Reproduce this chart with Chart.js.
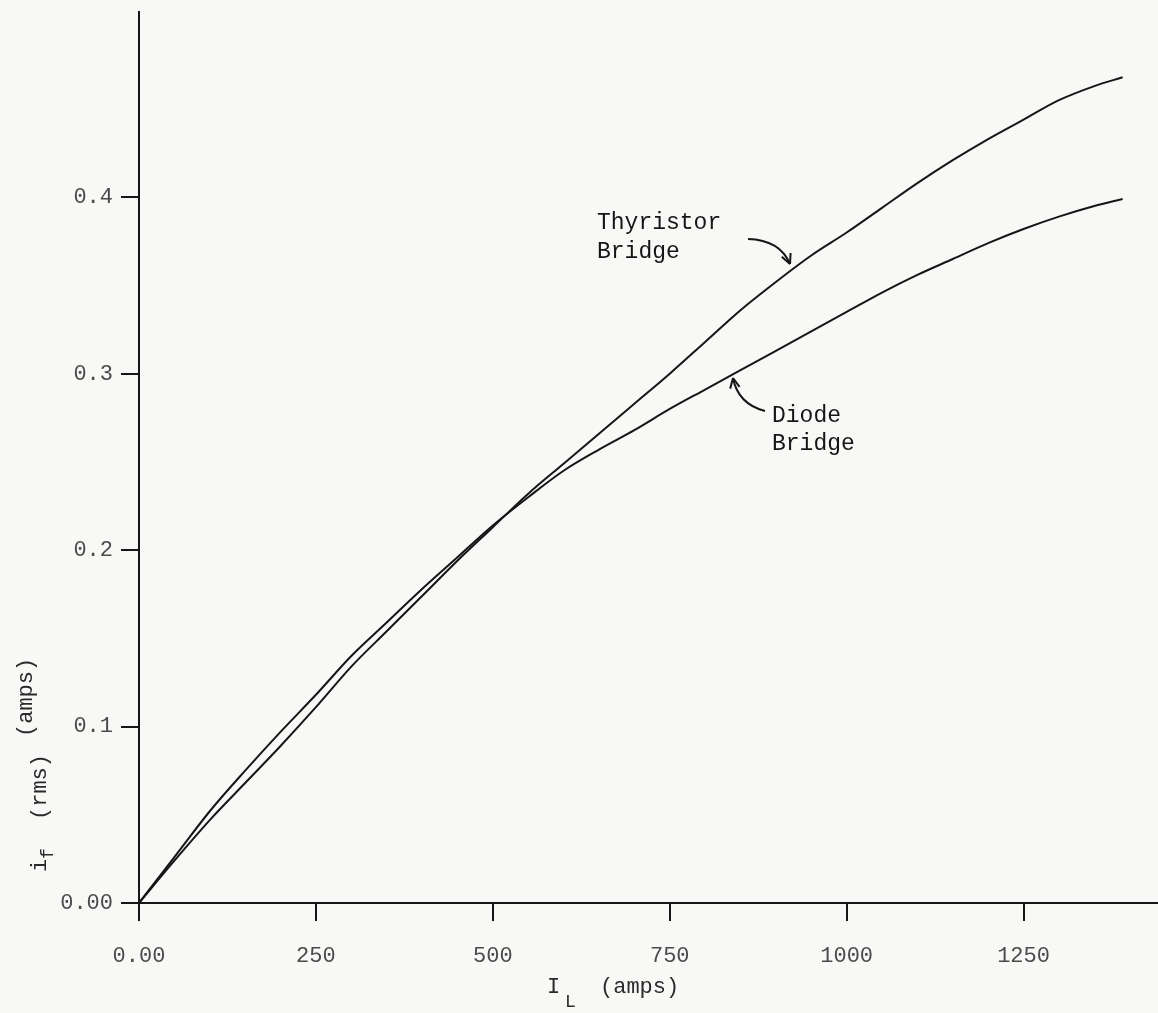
<!DOCTYPE html>
<html>
<head>
<meta charset="utf-8">
<script src="https://cdn.jsdelivr.net/npm/chart.js@4/dist/chart.umd.min.js"></script>
<style>
  html, body { margin: 0; padding: 0; background: #f8f8f6; }
  #wrap { width: 1158px; height: 1013px; }
</style>
</head>
<body>
<div id="wrap"><canvas id="chart" width="1158" height="1013"></canvas></div>
<script>
// Load current (amps) at which the curves were read
const loadAmps = [0, 50, 100, 150, 200, 250, 300, 350, 400, 450, 500, 550, 600, 650, 700,
  750, 800, 850, 900, 950, 1000, 1050, 1100, 1150, 1200, 1250, 1300, 1350, 1390];

// rms field current, diode bridge
const diodeBridge = [0, 0.026, 0.052, 0.075, 0.097, 0.118, 0.140, 0.159, 0.178, 0.196, 0.214,
  0.230, 0.245, 0.257, 0.268, 0.280, 0.291, 0.302, 0.313, 0.324, 0.335, 0.346, 0.356,
  0.365, 0.374, 0.382, 0.389, 0.395, 0.399];

// rms field current, thyristor bridge
const thyristorBridge = [0, 0.024, 0.047, 0.068, 0.089, 0.111, 0.134, 0.154, 0.174, 0.194, 0.213,
  0.232, 0.249, 0.266, 0.283, 0.300, 0.318, 0.336, 0.352, 0.367, 0.380, 0.394, 0.408,
  0.421, 0.433, 0.444, 0.455, 0.463, 0.468];

const xTicks = [0, 250, 500, 750, 1000, 1250];
const xTickLabels = ['0.00', '250', '500', '750', '1000', '1250'];
const yTicks = [0, 0.1, 0.2, 0.3, 0.4];
const yTickLabels = ['0.00', '0.1', '0.2', '0.3', '0.4'];

const FONT = '"Liberation Mono", "DejaVu Sans Mono", monospace';
const INK = '#161616';

function toPoints(values) {
  return loadAmps.map((a, i) => ({ x: a, y: values[i] }));
}

// hand-lettered labels, arrows and axis titles
const notes = {
  id: 'notes',
  afterDraw(chart) {
    const ctx = chart.ctx;
    ctx.save();
    ctx.fillStyle = INK;
    ctx.strokeStyle = INK;
    ctx.lineWidth = 2;
    ctx.font = '23px ' + FONT;
    ctx.textBaseline = 'middle';
    ctx.textAlign = 'left';

    // Thyristor Bridge
    ctx.fillText('Thyristor', 597, 223);
    ctx.fillText('Bridge', 597, 252);
    ctx.beginPath();
    ctx.moveTo(748, 239);
    ctx.quadraticCurveTo(780, 240, 790, 264);
    ctx.stroke();
    arrowHead(ctx, 790, 264, Math.atan2(24, 10));

    // Diode Bridge
    ctx.fillText('Diode', 772, 416);
    ctx.fillText('Bridge', 772, 444);
    ctx.beginPath();
    ctx.moveTo(765, 411);
    ctx.quadraticCurveTo(738, 404, 733, 378);
    ctx.stroke();
    arrowHead(ctx, 733, 378, Math.atan2(-26, -5));

    // x title: I_L (amps)
    ctx.fillStyle = '#2a2a2a';
    ctx.font = '22px ' + FONT;
    ctx.fillText('I', 547, 987);
    ctx.fillText('(amps)', 600, 987);
    ctx.font = '18px ' + FONT;
    ctx.fillText('L', 565, 1002);

    // y title: i_f (rms) (amps)
    ctx.translate(40, 872);
    ctx.rotate(-Math.PI / 2);
    ctx.font = '22px ' + FONT;
    ctx.fillText('i', 0, 0);
    ctx.font = '18px ' + FONT;
    ctx.fillText('f', 13, 8);
    ctx.font = '22px ' + FONT;
    ctx.fillText('(rms)', 52, 0);
    ctx.fillText('(amps)', 135, -14);
    ctx.restore();
  }
};

function arrowHead(ctx, x, y, ang) {
  const len = 11, spread = 0.45;
  ctx.beginPath();
  ctx.moveTo(x, y);
  ctx.lineTo(x - len * Math.cos(ang - spread), y - len * Math.sin(ang - spread));
  ctx.moveTo(x, y);
  ctx.lineTo(x - len * Math.cos(ang + spread), y - len * Math.sin(ang + spread));
  ctx.stroke();
}

const bg = {
  id: 'bg',
  beforeDraw(chart) {
    const ctx = chart.ctx;
    ctx.save();
    ctx.fillStyle = '#f8f8f6';
    ctx.fillRect(0, 0, chart.width, chart.height);
    ctx.restore();
  }
};

new Chart(document.getElementById('chart'), {
  type: 'line',
  data: {
    datasets: [
      { label: 'Thyristor Bridge', data: toPoints(thyristorBridge) },
      { label: 'Diode Bridge', data: toPoints(diodeBridge) }
    ]
  },
  options: {
    responsive: false,
    animation: false,
    layout: { padding: { top: 12, right: 0, left: 0, bottom: 0 } },
    elements: {
      line: { borderColor: INK, borderWidth: 2, cubicInterpolationMode: 'monotone', fill: false },
      point: { radius: 0 }
    },
    plugins: { legend: { display: false }, tooltip: { enabled: false } },
    scales: {
      x: {
        type: 'linear', min: 0, max: 1440,
        afterBuildTicks: s => { s.ticks = xTicks.map(v => ({ value: v })); },
        afterFit: s => { s.height = 110; s.paddingLeft = 0; s.paddingRight = 0; },
        grid: { drawOnChartArea: false, drawTicks: true, tickLength: 18, color: INK, lineWidth: 2 },
        border: { display: true, color: INK, width: 2 },
        ticks: {
          padding: 22, color: '#4a4a4a', font: { family: FONT, size: 22 },
          maxRotation: 0, autoSkip: false,
          callback: (v, i) => xTickLabels[i]
        }
      },
      y: {
        type: 'linear', min: 0, max: 0.505,
        afterBuildTicks: s => { s.ticks = yTicks.map(v => ({ value: v })); },
        afterFit: s => { s.width = 139; s.paddingTop = 0; s.paddingBottom = 0; },
        grid: { drawOnChartArea: false, drawTicks: true, tickLength: 18, color: INK, lineWidth: 2 },
        border: { display: true, color: INK, width: 2 },
        ticks: {
          padding: 8, color: '#4a4a4a', font: { family: FONT, size: 22 },
          autoSkip: false,
          callback: (v, i) => yTickLabels[i]
        }
      }
    }
  },
  plugins: [bg, notes]
});
</script>
</body>
</html>
